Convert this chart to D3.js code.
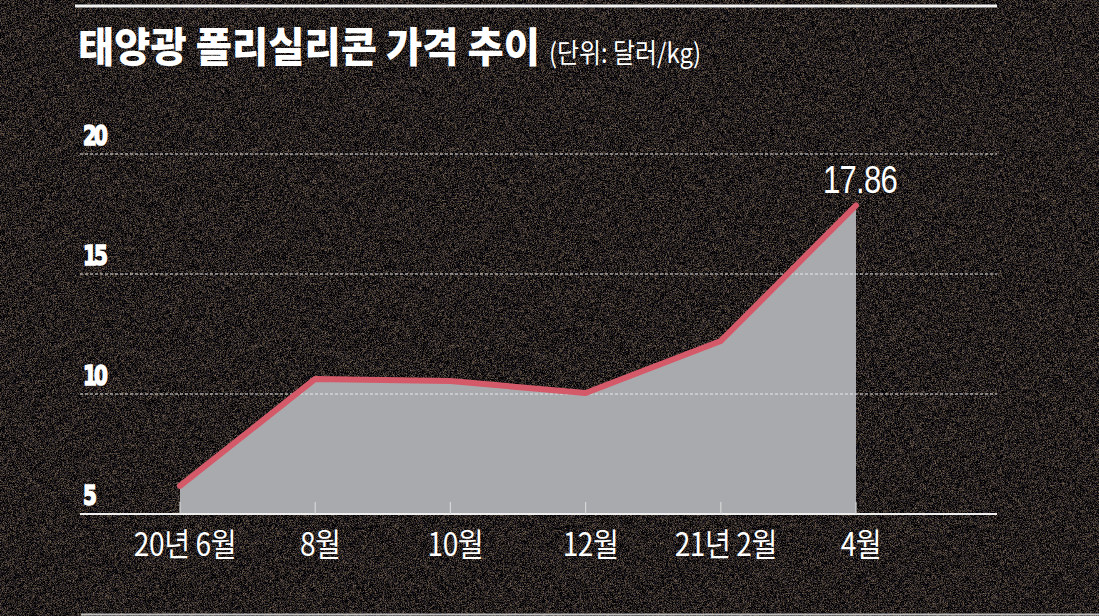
<!DOCTYPE html>
<html>
<head>
<meta charset="utf-8">
<script src="https://cdn.jsdelivr.net/npm/d3@7"></script>
<style>
  html, body { margin: 0; padding: 0; background: #1f1915; }
  svg { display: block; }
</style>
</head>
<body>
<svg></svg>
<script>
// 태양광 폴리실리콘 가격 추이 (달러/kg)
var months = ["20년 6월", "8월", "10월", "12월", "21년 2월", "4월"];
var prices = [6.17, 10.63, 10.54, 10.04, 12.21, 17.86];
var yTicks = [5, 10, 15, 20];

var width = 1099, height = 616;

var svg = d3.select("svg")
  .attr("width", width)
  .attr("height", height);

// grainy dark background (one noise channel -> brown tones)
var defs = svg.append("defs");
var f = defs.append("filter").attr("id", "noise")
  .attr("x", 0).attr("y", 0).attr("width", "100%").attr("height", "100%")
  .attr("color-interpolation-filters", "sRGB");
f.append("feTurbulence").attr("type", "fractalNoise").attr("baseFrequency", 2.6).attr("numOctaves", 1).attr("seed", 7).attr("result", "t");
f.append("feColorMatrix").attr("in", "t").attr("type", "matrix")
  .attr("values", "1.25 0 0 0 -0.49  1.05 0 0 0 -0.41  0.8 0.15 0 0 -0.36  0 0 0 0 1");

svg.append("rect").attr("width", width).attr("height", height).attr("fill", "#0e0b09");
svg.append("rect").attr("width", width).attr("height", height).attr("filter", "url(#noise)");

// top rule
svg.append("line")
  .attr("x1", 75).attr("x2", 997).attr("y1", 6).attr("y2", 6)
  .attr("stroke", "#f2f2f2").attr("stroke-width", 3);

// title
svg.append("text")
  .attr("x", 78).attr("y", 62)
  .attr("fill", "#ffffff")
  .style("font-family", "'Noto Sans CJK KR'")
  .style("font-weight", 900)
  .style("font-size", "41px")
  .attr("textLength", 462)
  .attr("lengthAdjust", "spacingAndGlyphs")
  .text("태양광 폴리실리콘 가격 추이");
svg.append("text")
  .attr("x", 549).attr("y", 63)
  .attr("fill", "#ffffff")
  .style("font-family", "'Noto Sans CJK KR'")
  .style("font-size", "27px")
  .attr("textLength", 152)
  .attr("lengthAdjust", "spacingAndGlyphs")
  .text("(단위: 달러/kg)");

var margin = {top: 154, bottom: 102, left: 80, right: 102};

var x = d3.scalePoint()
  .domain(months)
  .range([180, 856]);

var y = d3.scaleLinear()
  .domain([5, 20])
  .range([height - margin.bottom, margin.top]);

var data = months.map(function(m, i) { return {m: m, v: prices[i]}; });

// area
var area = d3.area()
  .x(function(d) { return x(d.m); })
  .y0(y(5))
  .y1(function(d) { return y(d.v); });

svg.append("path").datum(data)
  .attr("d", area)
  .attr("fill", "#a9aaae");

// grid lines (dashed) over area
svg.append("g").selectAll("line")
  .data(yTicks.filter(function(t) { return t > 5; }))
  .enter().append("line")
  .attr("x1", margin.left).attr("x2", width - margin.right)
  .attr("y1", function(d) { return y(d); })
  .attr("y2", function(d) { return y(d); })
  .attr("stroke", "#e8e8e8")
  .attr("stroke-width", 1)
  .attr("stroke-dasharray", "3,2");

// y labels
svg.append("g").selectAll("text")
  .data(yTicks)
  .enter().append("text")
  .attr("fill", "#ffffff")
  .attr("stroke", "#ffffff")
  .attr("stroke-width", 1.6)
  .style("font-family", "'DejaVu Sans'")
  .style("font-weight", "bold")
  .style("font-size", "27px")
  .attr("letter-spacing", "-4")
  .attr("transform", function(d) { return "translate(83," + (y(d) - 9) + ") scale(0.74,1)"; })
  .text(function(d) { return d; });

// x axis baseline
svg.append("line")
  .attr("x1", margin.left).attr("x2", width - margin.right)
  .attr("y1", y(5)).attr("y2", y(5))
  .attr("stroke", "#eeeeee").attr("stroke-width", 2);

// ticks
svg.append("g").selectAll("line")
  .data(months)
  .enter().append("line")
  .attr("x1", function(d) { return x(d); })
  .attr("x2", function(d) { return x(d); })
  .attr("y1", y(5) - 12).attr("y2", y(5))
  .attr("stroke", "#d6d6d6").attr("stroke-width", 1.2);

// x labels
svg.append("g").selectAll("text")
  .data(months)
  .enter().append("text")
  .attr("text-anchor", "middle")
  .attr("fill", "#ffffff")
  .style("font-family", "'Noto Sans CJK KR'")
  .style("font-size", "32px")
  .attr("letter-spacing", "-0.5")
  .attr("transform", function(d) { return "translate(" + (x(d) + 5) + "," + (y(5) + 42) + ") scale(0.88,1)"; })
  .text(function(d) { return d; });

// line
var line = d3.line()
  .x(function(d) { return x(d.m); })
  .y(function(d) { return y(d.v); });

svg.append("path").datum(data)
  .attr("d", line)
  .attr("fill", "none")
  .attr("stroke", "#d45a69")
  .attr("stroke-width", 6)
  .attr("stroke-linejoin", "round")
  .attr("stroke-linecap", "round");

// last value label
var last = data[data.length - 1];
svg.append("text")
  .attr("text-anchor", "middle")
  .attr("fill", "#ffffff")
  .style("font-family", "'Liberation Sans'")
  .style("font-size", "38px")
  .attr("letter-spacing", "-1")
  .attr("transform", "translate(" + (x(last.m) + 4) + "," + (y(last.v) - 12) + ") scale(0.82,1)")
  .text(last.v.toFixed(2));

// bottom rule
svg.append("line")
  .attr("x1", 81).attr("x2", width).attr("y1", 614.5).attr("y2", 614.5)
  .attr("stroke", "#bdbdbd").attr("stroke-width", 2);
</script>
</body>
</html>
